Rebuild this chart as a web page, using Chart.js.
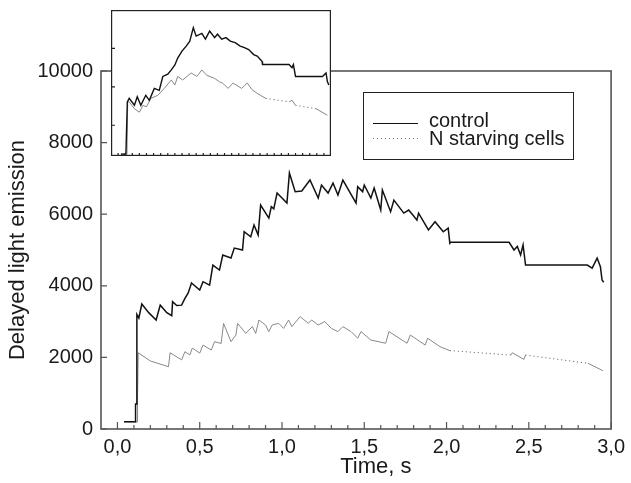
<!DOCTYPE html>
<html><head><meta charset="utf-8">
<script src="https://cdn.jsdelivr.net/npm/chart.js@4"></script>
<style>
html,body{margin:0;padding:0;background:#fff;}
#wrap{position:relative;width:631px;height:483px;overflow:hidden;}
#main{position:absolute;left:0;top:0;}
#inset{position:absolute;left:111px;top:10px;background:#fff;}
</style></head><body>
<div id="wrap"><canvas id="main" width="631" height="483"></canvas><canvas id="inset" width="220" height="146"></canvas></div>
<script>
// ---- data ----
const seriesNames = ['control', 'N starving cells'];
const xTitle = 'Time, s';
const yTitle = 'Delayed light emission';
const xTicks = [0, 0.5, 1.0, 1.5, 2.0, 2.5, 3.0];
const xMinorTicks = [0.1,0.2,0.3,0.4,0.6,0.7,0.8,0.9,1.1,1.2,1.3,1.4,1.6,1.7,1.8,1.9,2.1,2.2,2.3,2.4,2.6,2.7,2.8,2.9];
const yTicks = [0, 2000, 4000, 6000, 8000, 10000];
const insetYTicks = [1, 2, 3];

// main panel: control
const ctrlT = [0.04,0.108,0.11,0.113,0.118,0.13,0.148,0.19,0.235,0.26,0.3,0.33,0.335,0.36,0.39,0.41,0.43,0.45,0.5,0.52,0.56,0.58,0.62,0.64,0.69,0.71,0.76,0.77,0.81,0.83,0.855,0.87,0.92,0.935,0.95,0.97,1.0,1.03,1.045,1.08,1.12,1.17,1.22,1.24,1.28,1.31,1.34,1.37,1.45,1.46,1.49,1.5,1.54,1.56,1.6,1.61,1.66,1.68,1.74,1.77,1.8,1.82,1.83,1.89,1.93,1.98,2.01,2.02,2.025,2.38,2.41,2.43,2.45,2.465,2.48,2.855,2.885,2.915,2.935,2.945,2.955];
const ctrlY = [200,200,700,700,3200,3100,3490,3250,3045,3460,3250,3165,3555,3450,3460,3650,3800,4080,3880,4115,4020,4580,4440,4860,4775,5055,5000,5510,5370,5700,5420,6255,5890,6210,6150,6590,6450,6310,7150,6630,6650,6955,6450,6815,6590,6870,6535,6955,6310,6770,6630,6815,6450,6730,6115,6675,6070,6395,6030,6115,5950,5835,6030,5560,5790,5510,5610,5190,5215,5215,5000,5100,4860,5140,4580,4580,4495,4775,4535,4160,4100];
// main panel: N starving cells
const starvT = [0.04,0.12,0.122,0.126,0.2,0.31,0.32,0.39,0.41,0.44,0.455,0.5,0.52,0.57,0.59,0.63,0.645,0.69,0.72,0.73,0.78,0.82,0.84,0.86,0.9,0.92,0.94,0.98,1.01,1.04,1.06,1.11,1.16,1.18,1.22,1.26,1.3,1.34,1.37,1.42,1.46,1.48,1.54,1.63,1.65,1.76,1.78,1.87,1.885,1.96,2.02,2.39,2.4,2.47,2.48,2.86,2.95];
const starvY = [200,200,800,2130,1900,1740,2130,1930,2160,2070,2260,2120,2345,2205,2440,2390,2950,2440,2625,2950,2670,2860,2670,3045,2905,2720,2905,2950,2810,3045,2860,3140,2950,3045,2905,3000,2810,2720,2860,2720,2535,2720,2485,2395,2720,2395,2625,2345,2535,2300,2190,2065,2130,1945,2065,1835,1630];

// inset panel (arbitrary units)
const inCtrlT = [0.04,0.11,0.112,0.125,0.13,0.156,0.23,0.27,0.32,0.39,0.44,0.51,0.58,0.63,0.7,0.75,0.8,0.84,0.9,0.96,1.01,1.06,1.1,1.18,1.23,1.29,1.36,1.4,1.46,1.52,1.58,1.65,1.72,1.78,1.84,1.91,1.96,2.03,2.035,2.41,2.45,2.47,2.5,2.88,2.93,2.95,2.97];
const inCtrlY = [0.25,0.25,0.38,0.38,1.61,1.7,1.52,1.74,1.52,1.78,1.65,1.96,1.91,2.27,2.33,2.44,2.57,2.75,2.93,3.06,3.19,3.54,3.32,3.39,3.24,3.45,3.28,3.37,3.24,3.28,3.19,3.15,3.06,3.02,2.97,2.84,2.8,2.66,2.58,2.58,2.5,2.58,2.27,2.27,2.36,2.13,2.05];
const inStarvT = [0.04,0.125,0.135,0.156,0.23,0.3,0.35,0.4,0.46,0.56,0.65,0.75,0.8,0.84,0.91,1.03,1.11,1.18,1.25,1.36,1.43,1.47,1.55,1.62,1.74,1.82,1.89,1.96,2.08,2.41,2.45,2.5,2.79,2.95];
const inStarvY = [0.25,0.25,1.61,1.61,1.43,1.34,1.52,1.48,1.7,1.78,1.96,2.18,2.05,2.27,2.18,2.36,2.27,2.44,2.3,2.22,2.13,2.1,1.96,2.1,1.96,2.1,1.92,1.83,1.7,1.61,1.65,1.52,1.43,1.26];

const pts = (t, y) => t.map((v, i) => ({x: v, y: y[i]}));
const FONT = "'Liberation Sans', Arial, Helvetica, sans-serif";
const INK = '#1a1a1a';
const isSparse = c => (c.p1.parsed.x - c.p0.parsed.x > 0.2);
const sparseDash = c => (isSparse(c) ? [1, 3] : undefined);
const sparseColor = c => (isSparse(c) ? '#555' : undefined);

const mainFrame = {
  id: 'mainFrame',
  afterDraw(chart) {
    const {ctx, chartArea: a, scales: {x, y}} = chart;
    ctx.save();
    ctx.strokeStyle = '#555';
    ctx.lineWidth = 1.6;
    ctx.strokeRect(a.left, a.top, a.right - a.left, a.bottom - a.top);
    ctx.lineWidth = 1.2;
    ctx.beginPath();
    xTicks.forEach(v => { const px = x.getPixelForValue(v); ctx.moveTo(px, a.bottom); ctx.lineTo(px, a.bottom - 7); });
    xMinorTicks.forEach(v => { const px = x.getPixelForValue(v); ctx.moveTo(px, a.bottom); ctx.lineTo(px, a.bottom - 4); });
    yTicks.forEach(v => { const py = y.getPixelForValue(v); ctx.moveTo(a.left, py); ctx.lineTo(a.left + 6, py); });
    ctx.stroke();
    // x-axis title
    ctx.fillStyle = INK;
    ctx.font = '22px ' + FONT;
    ctx.textAlign = 'right';
    ctx.textBaseline = 'alphabetic';
    ctx.fillText(xTitle, 411.5, 473);
    // legend
    ctx.strokeStyle = '#222';
    ctx.lineWidth = 1;
    ctx.strokeRect(363.5, 92.5, 210, 67);
    ctx.beginPath();
    ctx.strokeStyle = '#111';
    ctx.lineWidth = 1.2;
    ctx.moveTo(373, 123.5); ctx.lineTo(418, 123.5); ctx.stroke();
    ctx.beginPath();
    ctx.strokeStyle = '#777';
    ctx.lineWidth = 1;
    ctx.setLineDash([1, 3]);
    ctx.moveTo(373, 138.5); ctx.lineTo(418, 138.5); ctx.stroke();
    ctx.setLineDash([]);
    ctx.font = '20px ' + FONT;
    ctx.textAlign = 'left';
    ctx.textBaseline = 'middle';
    ctx.fillText(seriesNames[0], 429, 121);
    ctx.fillText(seriesNames[1], 429, 139);
    ctx.restore();
  }
};

new Chart(document.getElementById('main'), {
  type: 'line',
  data: {datasets: [
    {label: seriesNames[0], data: pts(ctrlT, ctrlY), borderColor: '#111', borderWidth: 1.5, pointRadius: 0, tension: 0},
    {label: seriesNames[1], data: pts(starvT, starvY), borderColor: '#888', borderWidth: 1, pointRadius: 0, tension: 0,
     segment: {borderDash: sparseDash, borderColor: sparseColor}}
  ]},
  options: {
    responsive: false, animation: false, events: [],
    layout: {padding: {top: 71, right: 18, left: 0, bottom: 0}},
    plugins: {legend: {display: false}, tooltip: {enabled: false}},
    scales: {
      x: {type: 'linear', min: -0.1, max: 3.0,
          afterBuildTicks: s => { s.ticks = xTicks.map(v => ({value: v})); },
          afterFit: s => { s.height = 54; },
          grid: {display: false, drawTicks: false}, border: {display: false},
          ticks: {padding: 6, maxRotation: 0, autoSkip: false, color: INK, font: {family: FONT, size: 20},
                  callback: v => Number(v).toFixed(1).replace('.', ',')}},
      y: {type: 'linear', min: 0, max: 10000,
          afterBuildTicks: s => { s.ticks = yTicks.map(v => ({value: v})); },
          afterFit: s => { s.width = 101; },
          grid: {display: false, drawTicks: false}, border: {display: false},
          ticks: {padding: 8, color: INK, font: {family: FONT, size: 20}, callback: v => String(v)},
          title: {display: true, text: yTitle, color: INK, font: {family: FONT, size: 22}, padding: {top: 5, bottom: 0}}}
    }
  },
  plugins: [mainFrame]
});

const insetFrame = {
  id: 'insetFrame',
  beforeDraw(chart) {
    const {ctx, width, height} = chart;
    ctx.save(); ctx.fillStyle = '#fff'; ctx.fillRect(0, 0, width, height); ctx.restore();
  },
  afterDraw(chart) {
    const {ctx, chartArea: a, scales: {x, y}} = chart;
    ctx.save();
    ctx.strokeStyle = '#222';
    ctx.lineWidth = 1.2;
    ctx.strokeRect(a.left + 0.6, a.top + 0.6, a.right - a.left - 1.2, a.bottom - a.top - 1.2);
    ctx.beginPath();
    xTicks.concat(xMinorTicks).forEach(v => { const px = x.getPixelForValue(v); ctx.moveTo(px, a.bottom); ctx.lineTo(px, a.bottom - 3); });
    insetYTicks.forEach(v => { const py = y.getPixelForValue(v); ctx.moveTo(a.left, py); ctx.lineTo(a.left + 4, py); });
    ctx.stroke();
    ctx.restore();
  }
};

new Chart(document.getElementById('inset'), {
  type: 'line',
  data: {datasets: [
    {data: pts(inCtrlT, inCtrlY), borderColor: '#111', borderWidth: 1.4, pointRadius: 0, tension: 0},
    {data: pts(inStarvT, inStarvY), borderColor: '#888', borderWidth: 1, pointRadius: 0, tension: 0,
     segment: {borderDash: sparseDash, borderColor: sparseColor}}
  ]},
  options: {
    responsive: false, animation: false, events: [],
    layout: {padding: 0},
    plugins: {legend: {display: false}, tooltip: {enabled: false}},
    scales: {
      x: {type: 'linear', min: -0.1, max: 3.0, display: false},
      y: {type: 'linear', min: 0.2, max: 4.0, display: false}
    }
  },
  plugins: [insetFrame]
});
</script>
</body></html>
